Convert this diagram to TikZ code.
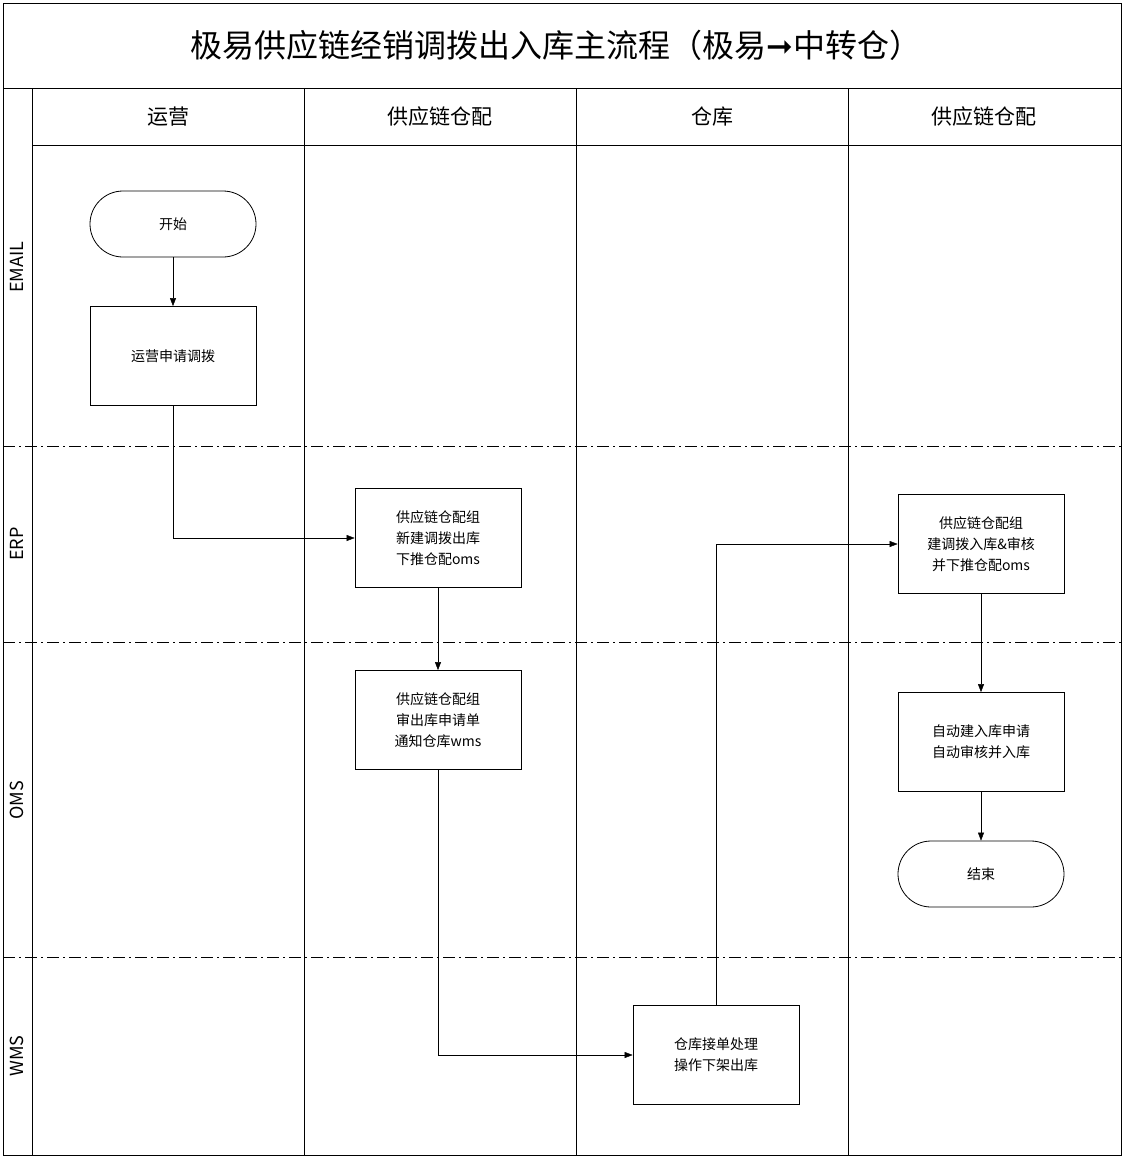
\documentclass[tikz,border=0pt]{standalone}
\usepackage{fontspec}
\setmainfont{Noto Sans CJK SC}
\newfontfamily\symfont{DejaVu Sans}
\usepackage{tikz}
\usetikzlibrary{arrows.meta}
\tikzset{
  box/.style={draw, thick, minimum width=166pt, minimum height=99pt, align=center, font=\fontsize{14}{21}\selectfont},
  term/.style={draw, thick, rounded corners=33pt, minimum width=166pt, minimum height=66pt, font=\fontsize{14}{21}\selectfont},
  flow/.style={-{Triangle[length=8pt,width=6pt]}},
  lane/.style={dash pattern=on 12pt off 4pt on 2pt off 4pt, thick},
  hdr/.style={font=\fontsize{21}{24}\selectfont},
  side/.style={rotate=90, font=\fontsize{18}{20}\selectfont}
}
\begin{document}
\begin{tikzpicture}[x=1pt, y=-1pt]
\useasboundingbox (0,0) rectangle (1123,1157);
% frame
\draw[thick] (3,3) rectangle (1121,1155);
\draw[thick] (3,88) -- (1121,88);
\draw[thick] (32,88) -- (32,1155);
\draw[thick] (32,145) -- (1121,145);
\foreach \x in {304,576,848} \draw[thick] (\x,88) -- (\x,1155);
\foreach \y in {446,642,957} \draw[lane] (3,\y) -- (1121,\y);
% title and headers
\node[font=\fontsize{32}{35}\selectfont] (title) at (556,45) {极易供应链经销调拨出入库主流程（极易{\symfont ➞}中转仓）};
\node[hdr] (h1) at (168,117) {运营};
\node[hdr] (h2) at (440,117) {供应链仓配};
\node[hdr] (h3) at (712,117) {仓库};
\node[hdr] (h4) at (984,117) {供应链仓配};
\node[side] (l1) at (17,267) {EMAIL};
\node[side] (l2) at (17,544) {ERP};
\node[side] (l3) at (17,800) {OMS};
\node[side] (l4) at (17,1056) {WMS};
% nodes
\node[term] (start) at (173,224) {开始};
\node[box] (apply) at (173,356) {运营申请调拨};
\node[box] (create) at (438,538) {供应链仓配组\\新建调拨出库\\下推仓配oms};
\node[box] (audit) at (438,720) {供应链仓配组\\审出库申请单\\通知仓库wms};
\node[box] (pick) at (716,1055) {仓库接单处理\\操作下架出库};
\node[box] (inbound) at (981,544) {供应链仓配组\\建调拨入库\&审核\\并下推仓配oms};
\node[box] (auto) at (981,742) {自动建入库申请\\自动审核并入库};
\node[term] (end) at (981,874) {结束};
% connectors
\draw[flow] (start) -- (apply);
\draw[flow] (apply.south) |- (create.west);
\draw[flow] (create) -- (audit);
\draw[flow] (audit.south) |- (pick.west);
\draw[flow] (pick.north) |- (inbound.west);
\draw[flow] (inbound) -- (auto);
\draw[flow] (auto) -- (end);
\end{tikzpicture}
\end{document}
